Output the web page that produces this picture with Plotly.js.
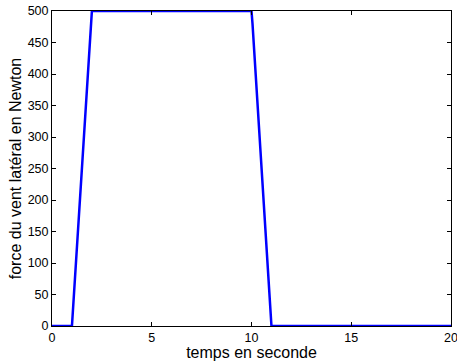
<!DOCTYPE html>
<html><head><meta charset="utf-8">
<script src="https://cdn.plot.ly/plotly-3.0.1.min.js"></script>
<style>body{margin:0;padding:0;background:#fff}#g{width:457px;height:361px}</style>
</head><body><div id="g"></div>
<script>
const timeValues = [0, 1, 2, 10, 10.05, 11, 20];
const forceValues = [0, 0, 500, 500, 480, 0, 0];
const xTicks = [0, 5, 10, 15, 20];
const yTicks = [0, 50, 100, 150, 200, 250, 300, 350, 400, 450, 500];

const fam = 'Liberation Sans, Arial, sans-serif';
const tickFont = {family: fam, size: 12.5, color: '#000'};
const titleFont = {family: fam, size: 16, color: '#000'};
Plotly.newPlot('g', [{
  x: timeValues, y: forceValues, type: 'scatter', mode: 'lines',
  line: {color: '#0000ff', width: 2.5}, cliponaxis: false
}], {
  width: 457, height: 361,
  margin: {l: 52, r: 6, t: 11, b: 35},
  paper_bgcolor: '#fff', plot_bgcolor: '#fff',
  showlegend: false, font: tickFont,
  xaxis: {range: [0, 20], tickvals: xTicks, ticktext: xTicks.map(String),
    ticks: 'inside', ticklen: 4, tickcolor: '#000', showline: true, mirror: 'ticks',
    linecolor: '#000', linewidth: 1, showgrid: false, zeroline: false,
    ticklabeloverflow: 'allow',
    tickfont: tickFont, title: {text: 'temps en seconde', font: titleFont, standoff: 1}},
  yaxis: {range: [0, 500], tickvals: yTicks, ticktext: yTicks.map(String),
    ticks: 'inside', ticklen: 4, tickcolor: '#000', showline: true, mirror: 'ticks',
    linecolor: '#000', linewidth: 1, showgrid: false, zeroline: false,
    ticklabeloverflow: 'allow',
    tickfont: tickFont, title: {text: 'force du vent latéral en Newton', font: titleFont, standoff: 2}}
}, {staticPlot: true});
</script></body></html>
